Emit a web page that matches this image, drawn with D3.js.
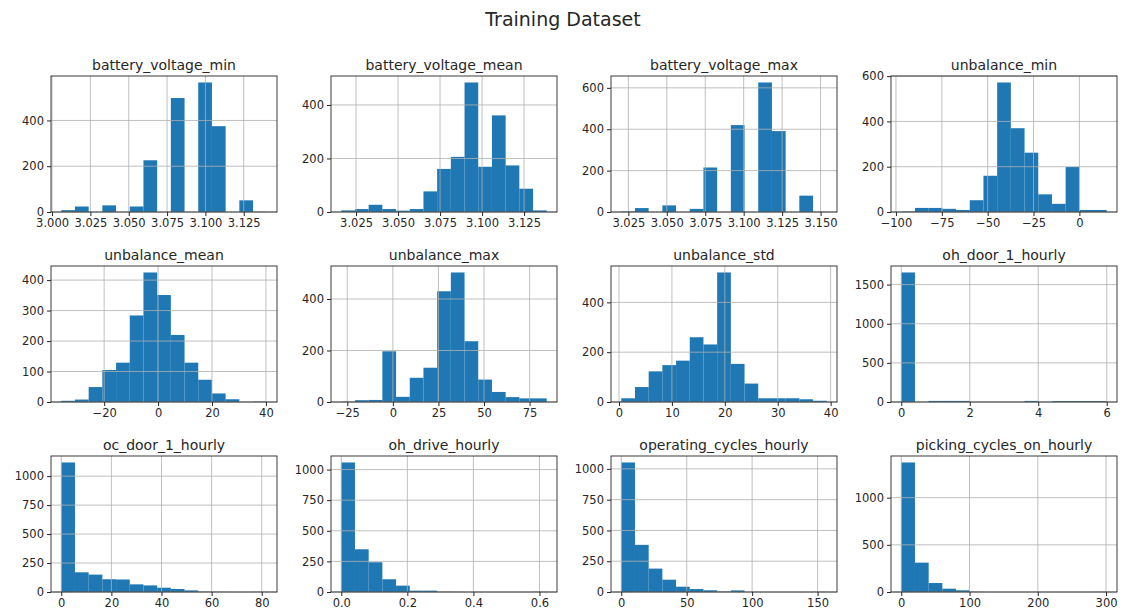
<!DOCTYPE html>
<html>
<head>
<meta charset="utf-8">
<script src="https://cdn.jsdelivr.net/npm/d3@7"></script>
<style>
  body { margin: 0; background: #fff; }
  text { font-family: "DejaVu Sans", sans-serif; fill: #262626; }
  .tick text { font-size: 11.5px; }
  .tick line { stroke: #262626; }
</style>
</head>
<body>
<div class="chart"></div>
<script>
// panel titles, in grid order
const panelNames = [
  "battery_voltage_min", "battery_voltage_mean", "battery_voltage_max", "unbalance_min",
  "unbalance_mean", "unbalance_max", "unbalance_std", "oh_door_1_hourly",
  "oc_door_1_hourly", "oh_drive_hourly", "operating_cycles_hourly", "picking_cycles_on_hourly"
];

// data range (first / last bin edge) of each column
const binLo = [3.006, 3.0162, 3.0204, -97.1, -35.9, -28.3, 0.43, 0, 0, 0, 0, 0];
const binHi = [3.140, 3.1385, 3.154, 14.9, 40.3, 84.4, 39.26, 6, 82, 0.622, 157, 301];

// 15 bin counts per column
const batteryVoltageMin  = [8, 24, 0, 29, 0, 24, 226, 0, 498, 0, 566, 375, 0, 51, 1];
const batteryVoltageMean = [6, 11, 27, 11, 5, 11, 77, 161, 206, 484, 169, 361, 174, 87, 6];
const batteryVoltageMax  = [2, 19, 0, 32, 0, 15, 215, 0, 420, 0, 626, 391, 0, 79, 1];
const unbalanceMin       = [2, 18, 18, 14, 9, 52, 160, 572, 370, 262, 78, 36, 199, 9, 9];
const unbalanceMean      = [4, 8, 49, 105, 129, 284, 425, 351, 220, 129, 73, 28, 9, 0, 1];
const unbalanceMax       = [1, 7, 8, 197, 20, 94, 133, 430, 503, 236, 87, 39, 19, 14, 14];
const unbalanceStd       = [15, 60, 123, 148, 166, 260, 231, 520, 153, 74, 15, 15, 15, 11, 5];
const ohDoorHourly       = [1655, 0, 14, 14, 14, 0, 0, 0, 0, 14, 0, 12, 12, 12, 12];
const ocDoorHourly       = [1118, 170, 150, 110, 108, 66, 57, 37, 26, 14, 2, 1, 0, 0, 1];
const ohDriveHourly      = [1058, 349, 243, 104, 52, 11, 11, 2, 1, 0, 0, 0, 0, 0, 1];
const operatingCycles    = [1052, 383, 190, 100, 43, 24, 14, 3, 13, 0, 0, 0, 0, 0, 1];
const pickingCycles      = [1373, 311, 95, 35, 18, 2, 0, 0, 0, 0, 0, 0, 0, 0, 1];

const panelCounts = [
  batteryVoltageMin, batteryVoltageMean, batteryVoltageMax, unbalanceMin,
  unbalanceMean, unbalanceMax, unbalanceStd, ohDoorHourly,
  ocDoorHourly, ohDriveHourly, operatingCycles, pickingCycles
];

// tick values
const xTicks = [
  [3.000, 3.025, 3.050, 3.075, 3.100, 3.125],
  [3.025, 3.050, 3.075, 3.100, 3.125],
  [3.025, 3.050, 3.075, 3.100, 3.125, 3.150],
  [-100, -75, -50, -25, 0],
  [-20, 0, 20, 40],
  [-25, 0, 25, 50, 75],
  [0, 10, 20, 30, 40],
  [0, 2, 4, 6],
  [0, 20, 40, 60, 80],
  [0.0, 0.2, 0.4, 0.6],
  [0, 50, 100, 150],
  [0, 100, 200, 300]
];
const xDecimals = [3, 3, 3, 0, 0, 0, 0, 0, 0, 1, 0, 0];
const yTicks = [
  [0, 200, 400],
  [0, 200, 400],
  [0, 200, 400, 600],
  [0, 200, 400, 600],
  [0, 100, 200, 300, 400],
  [0, 200, 400],
  [0, 200, 400],
  [0, 500, 1000, 1500],
  [0, 250, 500, 750, 1000],
  [0, 250, 500, 750, 1000],
  [0, 250, 500, 750, 1000],
  [0, 500, 1000]
];

const W = 1126, H = 612;
const panelW = 226, panelH = 136;
const nBins = 15;

const svg = d3.select(".chart")
  .append("svg")
  .attr("width", W)
  .attr("height", H);

svg.append("text")
  .attr("x", 563)
  .attr("y", 26)
  .attr("text-anchor", "middle")
  .attr("font-size", "19px")
  .text("Training Dataset");

panelNames.forEach((name, i) => {
  const col = i % 4, row = Math.floor(i / 4);
  const g = svg.append("g")
    .attr("transform", `translate(${51 + col * 280}, ${76 + row * 190})`);

  const lo = binLo[i], hi = binHi[i], R = hi - lo;
  const counts = panelCounts[i];
  const binW = R / nBins;

  const xScale = d3.scaleLinear()
    .domain([lo - 0.05 * R, hi + 0.05 * R])
    .range([0, panelW]);
  const yScale = d3.scaleLinear()
    .domain([0, d3.max(counts) * 1.05])
    .range([panelH, 0]);

  const bins = counts.map((c, k) => ({ x0: lo + k * binW, x1: lo + (k + 1) * binW, c }));

  g.selectAll(".bar")
    .data(bins.filter(d => d.c > 0))
    .enter()
    .append("rect")
    .attr("class", "bar")
    .attr("fill", "#1f77b4")
    .attr("x", d => xScale(d.x0))
    .attr("width", d => xScale(d.x1) - xScale(d.x0))
    .attr("y", d => yScale(d.c))
    .attr("height", d => panelH - yScale(d.c));

  // grid sits above the bars, like matplotlib
  g.selectAll(".vgrid")
    .data(xTicks[i])
    .enter()
    .append("line")
    .attr("x1", d => xScale(d)).attr("x2", d => xScale(d))
    .attr("y1", 0).attr("y2", panelH)
    .attr("stroke", "#b0b0b0").attr("stroke-width", 0.8);
  g.selectAll(".hgrid")
    .data(yTicks[i])
    .enter()
    .append("line")
    .attr("x1", 0).attr("x2", panelW)
    .attr("y1", d => yScale(d)).attr("y2", d => yScale(d))
    .attr("stroke", "#b0b0b0").attr("stroke-width", 0.8);

  const xAxis = d3.axisBottom(xScale)
    .tickValues(xTicks[i])
    .tickFormat(d3.format(`.${xDecimals[i]}f`))
    .tickSize(4)
    .tickPadding(3);
  g.append("g")
    .attr("class", "axis x-axis")
    .attr("transform", `translate(0, ${panelH})`)
    .call(xAxis)
    .call(a => a.select(".domain").remove());

  const yAxis = d3.axisLeft(yScale)
    .tickValues(yTicks[i])
    .tickFormat(d3.format("d"))
    .tickSize(4)
    .tickPadding(3);
  g.append("g")
    .attr("class", "axis y-axis")
    .call(yAxis)
    .call(a => a.select(".domain").remove());

  g.selectAll(".axis text").attr("font-family", null).attr("font-size", null);

  g.append("rect")
    .attr("width", panelW)
    .attr("height", panelH)
    .attr("fill", "none")
    .attr("stroke", "#262626")
    .attr("stroke-width", 0.9);

  g.append("text")
    .attr("x", panelW / 2)
    .attr("y", -6)
    .attr("text-anchor", "middle")
    .attr("font-size", "14px")
    .text(name);
});
</script>
</body>
</html>
